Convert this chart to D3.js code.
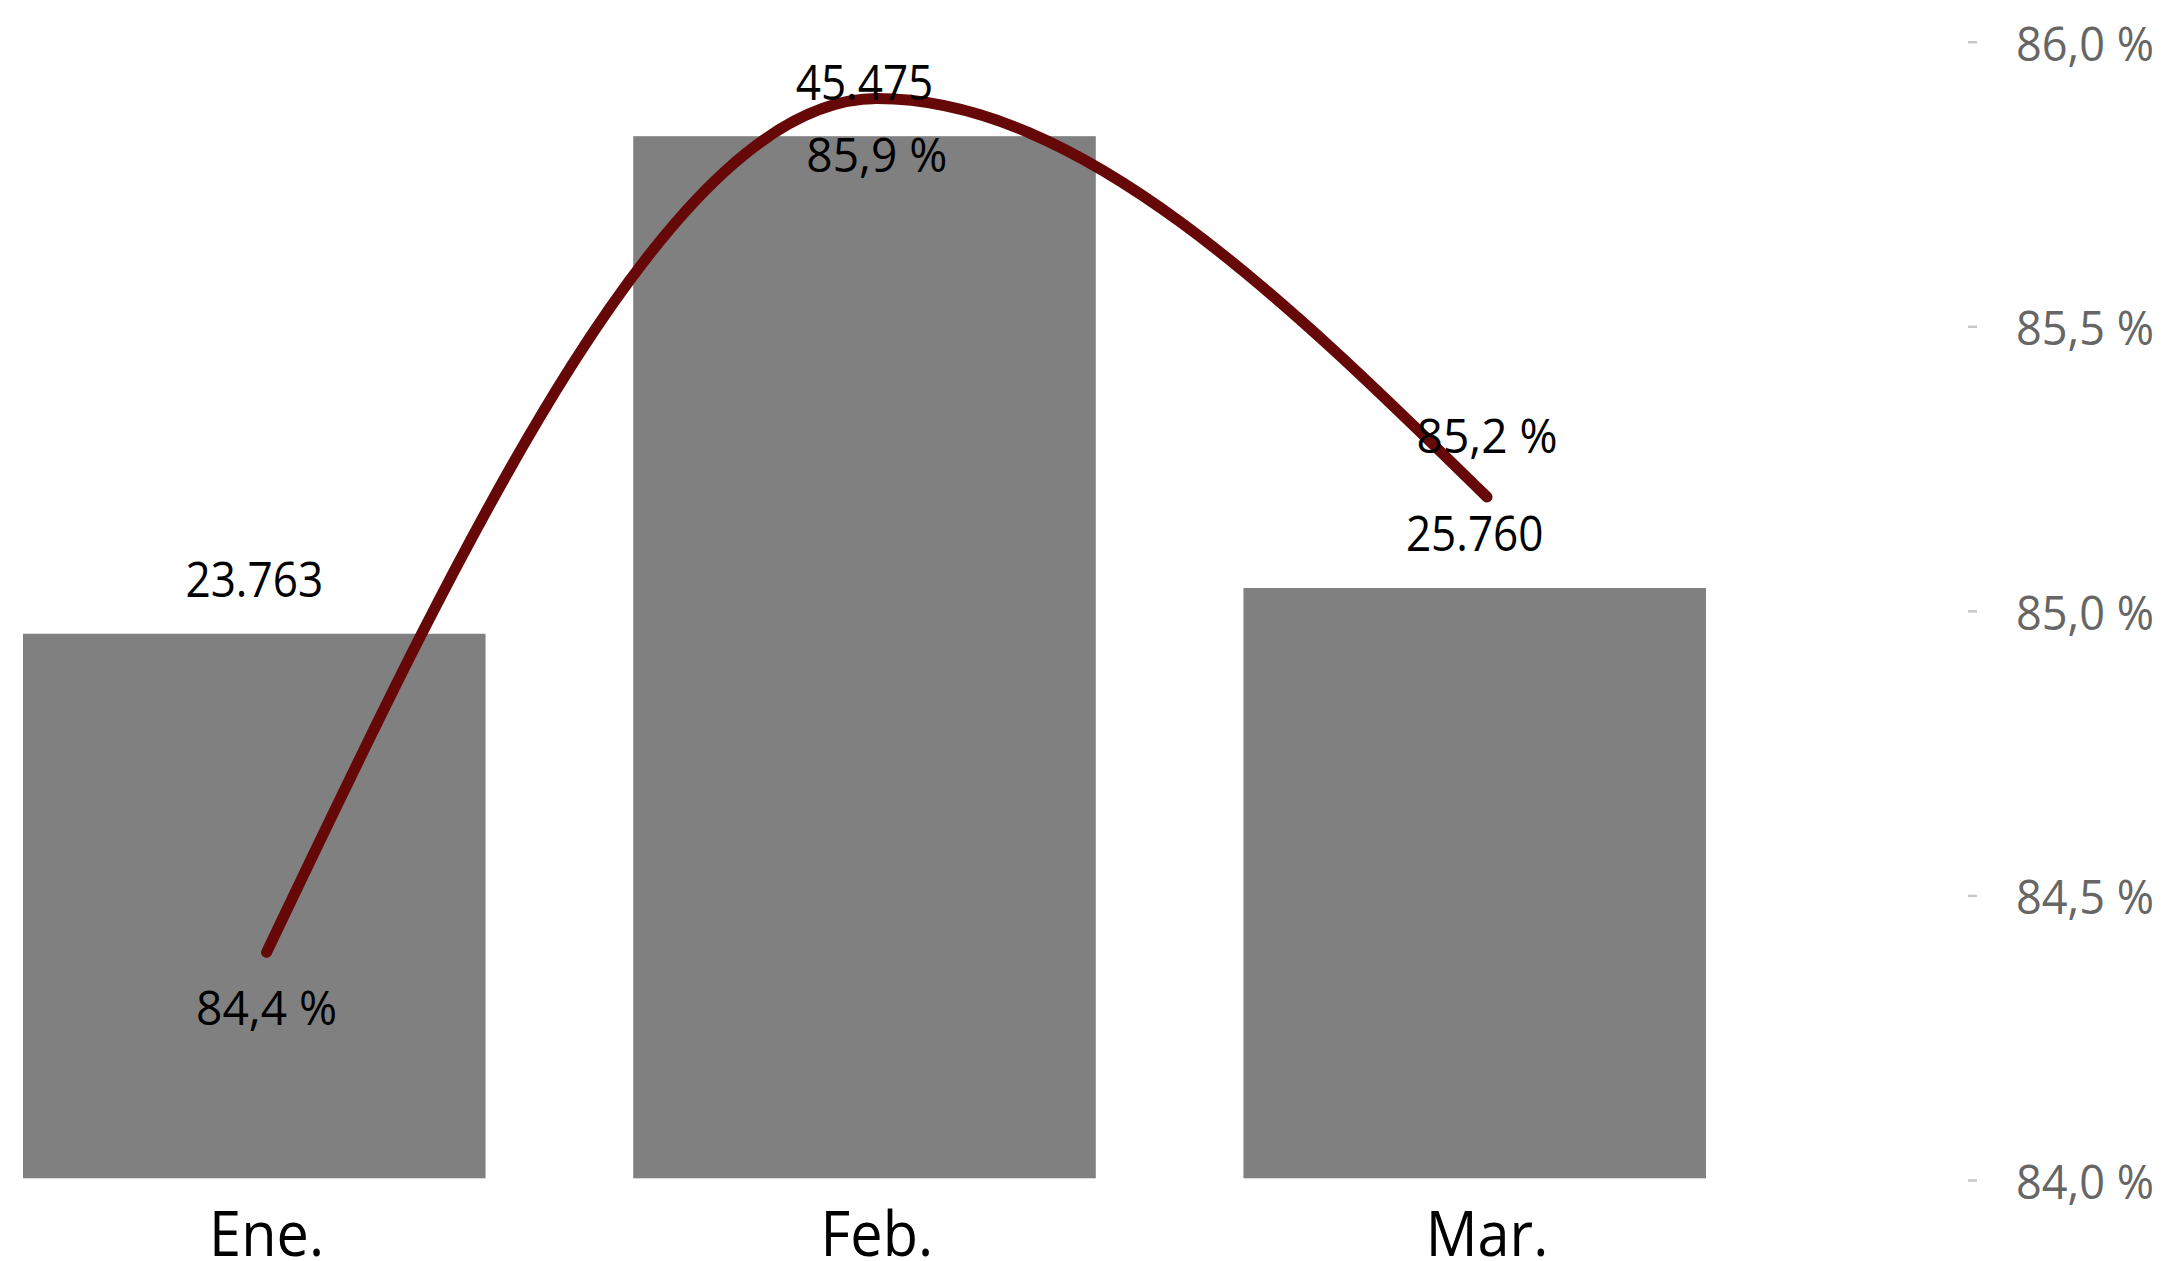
<!DOCTYPE html>
<html>
<head>
<meta charset="utf-8">
<script src="https://cdn.jsdelivr.net/npm/d3@7"></script>
<style>
  html, body { margin: 0; padding: 0; background: #fff; }
  svg { display: block; font-family: "Open Sans", "Noto Sans", sans-serif; }
</style>
</head>
<body>
<svg id="chart" width="2163" height="1261"></svg>
<script>
// Monthly volume (bars) and percentage rate (line)
const months = ["Ene.", "Feb.", "Mar."];
const volumes = [23763, 45475, 25760];
const rates = [84.4, 85.9, 85.2];
const rateTicks = [84.0, 84.5, 85.0, 85.5, 86.0];
// label above (-1) or below (+1) the line point
const rateLabelSide = [1, 1, -1];

const W = 2163, H = 1261;
const svg = d3.select("#chart");

const locale = d3.formatLocale({ decimal: ",", thousands: ".", grouping: [3], currency: ["", " €"] });
const fmtVol = locale.format(",d");
const fmtRate = v => locale.format(".1f")(v) + " %";

// narrow glyph proportions
const SX_NUM = 0.9;
const SX_PCT = 0.96;
const SX_CAT = 0.93;

// Scales
const xBar = d3.scaleBand().domain(months).range([23, 1706]).paddingInner(0.242).paddingOuter(0);
const pointShift = 12.3;
const xPt = m => xBar(m) + xBar.bandwidth() / 2 + pointShift;

const yVol = d3.scaleLinear().domain([0, 50000]).range([1178.3, 32.5]);
const yRate = d3.scaleLinear().domain([84, 86]).range([1180, 41.7]);

function label(g, x, y, txt, opts) {
  return g.append("text")
    .attr("transform", `translate(${x},${y}) scale(${opts.sx},1)`)
    .attr("text-anchor", opts.anchor || "middle")
    .attr("dominant-baseline", opts.baseline || "alphabetic")
    .attr("font-size", opts.size)
    .attr("fill", opts.fill || "#000")
    .text(txt);
}

// Bars
const data = months.map((m, i) => ({ m, vol: volumes[i], rate: rates[i], side: rateLabelSide[i] }));

svg.append("g").attr("class", "bars")
  .selectAll("rect").data(data).join("rect")
  .attr("x", d => xBar(d.m))
  .attr("width", xBar.bandwidth())
  .attr("y", d => yVol(d.vol))
  .attr("height", d => yVol(0) - yVol(d.vol))
  .attr("fill", "#808080");

// Right-hand percentage axis
const axisG = svg.append("g")
  .attr("transform", "translate(1968,0)")
  .call(d3.axisRight(yRate).tickValues(rateTicks).tickSize(9).tickPadding(39).tickFormat(fmtRate));
axisG.select(".domain").remove();
axisG.selectAll(".tick line").attr("stroke", "#c8c8c8").attr("stroke-width", 2.5);
axisG.selectAll(".tick text")
  .attr("x", null).attr("dy", null)
  .attr("transform", `translate(48,0) scale(${SX_PCT},1)`)
  .attr("dominant-baseline", "central")
  .attr("font-size", 47)
  .attr("font-family", "'Open Sans', 'Noto Sans', sans-serif")
  .attr("fill", "#666666");

// Rate line
const line = d3.line()
  .x(d => xPt(d.m))
  .y(d => yRate(d.rate))
  .curve(d3.curveMonotoneX);

svg.append("path")
  .datum(data)
  .attr("d", line)
  .attr("fill", "none")
  .attr("stroke", "#670808")
  .attr("stroke-width", 11)
  .attr("stroke-linecap", "round")
  .attr("stroke-linejoin", "round");

// Value labels above bars
const labelsG = svg.append("g").attr("class", "labels");
data.forEach(d => {
  label(labelsG, xBar(d.m) + xBar.bandwidth() / 2, yVol(d.vol) - 36.5, fmtVol(d.vol), { size: 49, sx: SX_NUM });
});

// Rate labels next to line points
data.forEach(d => {
  const y = yRate(d.rate) + (d.side > 0 ? 73 : -44);
  label(labelsG, xPt(d.m), y, fmtRate(d.rate), { size: 48, sx: SX_PCT });
});

// Category labels
const catG = svg.append("g").attr("class", "categories");
data.forEach(d => {
  label(catG, xPt(d.m), 1256, d.m, { size: 62, sx: SX_CAT });
});
</script>
</body>
</html>
